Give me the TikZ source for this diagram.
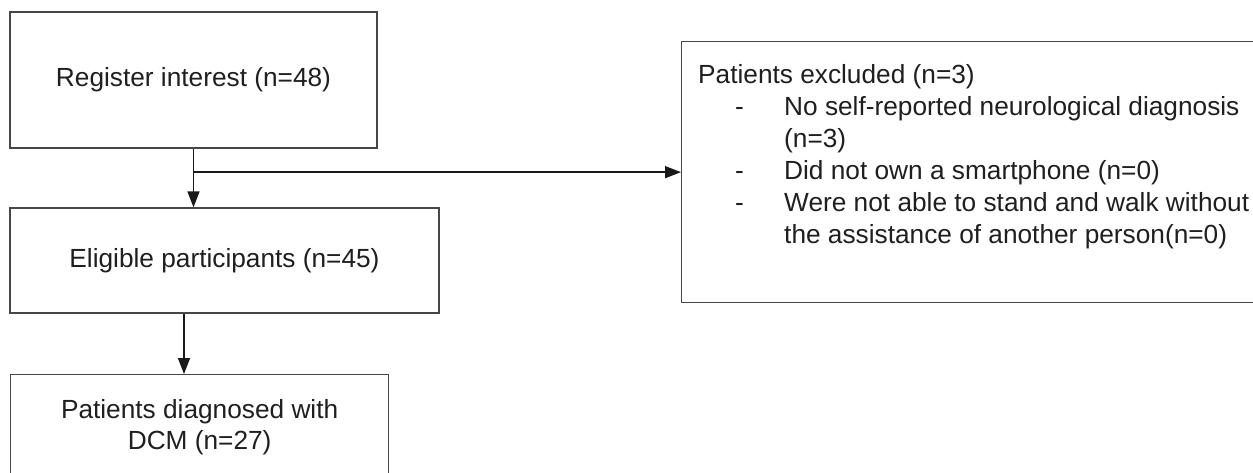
\documentclass[tikz,border=0pt]{standalone}
\usepackage{fontspec}
\setmainfont{Liberation Sans}
\usetikzlibrary{arrows.meta}
\tikzset{
  box/.style={draw=black!72, line width=1.3pt, inner sep=0pt, font=\fontsize{26.25}{31}\selectfont, text=black!88, align=center},
  arr/.style={draw=black!90, line width=1.5pt, -{Triangle[length=16pt,width=12pt]}},
  txt/.style={font=\fontsize{26.25}{31}\selectfont, text=black!88, inner sep=0pt, anchor=base west},
}
\begin{document}
\begin{tikzpicture}[x=1pt,y=-1pt]
\useasboundingbox (0,0) rectangle (1253,472);
\clip (0,0) rectangle (1253,472);
\fill[white] (0,0) rectangle (1253,472);
\node[box, minimum width=367pt, minimum height=136pt] (reg) at (193.5,80) {Register interest (n=48)};
\node[box, minimum width=429pt, minimum height=105pt] (elig) at (224.5,260.5) {Eligible participants (n=45)};
\node[box, minimum width=378pt, minimum height=106pt, anchor=north west] (dcm) at (10,374) {Patients diagnosed with\\DCM (n=27)};
\node[box, minimum width=590pt, minimum height=261pt, anchor=north west] (excl) at (681,41) {};
\node[txt] (t0) at (698,83) {Patients excluded (n=3)};
\node[txt] (d1) at (735,115) {-};
\node[txt] (t1) at (784,115) {No self-reported neurological diagnosis};
\node[txt] (t1b) at (784,147) {(n=3)};
\node[txt] (d2) at (735,179) {-};
\node[txt] (t2) at (784,179) {Did not own a smartphone (n=0)};
\node[txt] (d3) at (735,211) {-};
\node[txt] (t3) at (784,211) {Were not able to stand and walk without};
\node[txt] (t3b) at (784,243) {the assistance of another person(n=0)};
\coordinate (a2) at (184,313);
\draw[arr] (reg.south) -- (reg.south |- elig.north);
\draw[arr] (reg.south |- excl.west) -- (excl.west);
\draw[arr] (elig.south -| a2) -- (dcm.north -| a2);
\end{tikzpicture}
\end{document}
